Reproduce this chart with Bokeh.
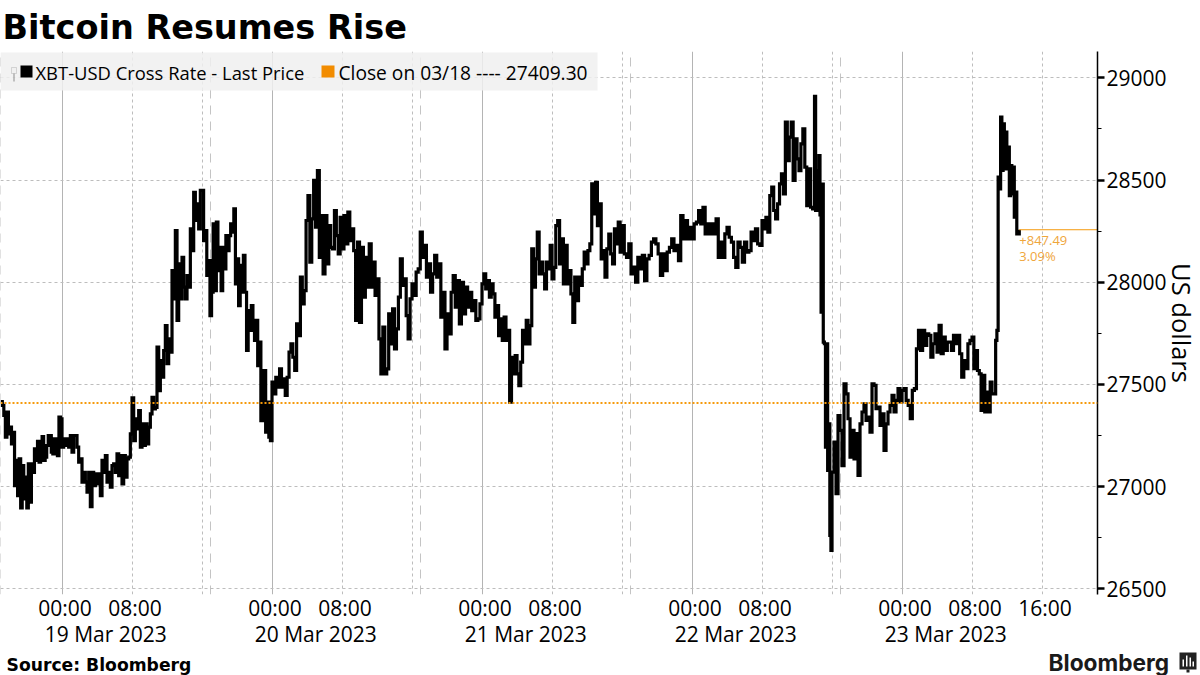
import numpy as np
from bokeh.embed import file_html
from bokeh.layouts import column
from bokeh.resources import INLINE
from bokeh.plotting import figure
from bokeh.models import (BoxAnnotation, FixedTicker, Grid, Label, LinearAxis, Range1d, Span)

TITLE = "Bitcoin Resumes Rise"
SOURCE = "Source: Bloomberg"
BRAND = "Bloomberg"
Y_TITLE = "US dollars"
LEGEND_LINE = "XBT-USD Cross Rate - Last Price"
LEGEND_CLOSE = "Close on 03/18 ---- 27409.30"
CLOSE_VALUE = 27409.30
CHANGE_ABS = "+847.49"
CHANGE_PCT = "3.09%"

# hours since 19 Mar 2023 00:00 bounding each run of readings
seg_edges = [-7, 0, 8, 16, 24, 32, 40, 48, 56, 64, 72, 80, 86, 88, 96, 104, 106.7, 109.4]
seg_00 = [27416,27397,27348,27242,27364,27258,27291,27209,27266,27005,27128,26956,27136,26896,27103,26940,27046,26896,27111,26924,27111,27070,27185,27128,27222,27120,27177,27245,27128,27144,27201,27250,27250,27168,27160,27234,27185,27152,27340,27331]
seg_01 = [27193,27234,27201,27234,27193,27250,27168,27250,27250,27193,27120,27136,27022,27070,27022,26973,27070,26902,27070,27005,27062,27013,27062,26956,27128,27070,27152,27022,27070,26997,27103,27111,27070,27160,27054,27152,27013,27152,27046,27136,27144,27258]
seg_02 = [27434,27225,27331,27282,27372,27193,27307,27201,27307,27209,27291,27356,27437,27380,27388,27682,27470,27617,27535,27666,27788,27601,27723,27658,28057,27919,28253,27813,28090,27919,28122,27976,27919,28033,27976,28261,28155,28440,28302,28383,28261,28449]
seg_03 = [28449,28204,28253,28033,28106,27837,27951,28286,27959,28294,28057,28171,27959,28171,28065,28228,28155,28228,28286,28245,28359,27992,28114,27886,28082,27951,28131,27951,27666,27861,27764,27886,27813,27715,27813,27592,27707,27323,27486,27568,27266,27413,27242,27225]
seg_04 = [27511,27454,27535,27486,27576,27486,27527,27446,27535,27658,27698,27633,27568,27796,27739,28025,27894,27959,28302,28424,28098,28310,28498,28269,28546,28122,28326,28041,28326,28090,28277,28171,28163,28351,28228,28139,28318]
seg_05 = [28163,28326,28188,28343,28204,28261,28155,27813,28196,27804,28171,27927,28122,27976,28188,27976,28098,27935,28016,27723,27552,27780,27552,27576,27845,27698,27870,27674,27772,27927,28114,27984,28016,27837,27723,27919]
seg_06 = [27992,27935,28049,28065,28245,28122,28180,28025,28090,27951,28041,28131,28025,28090,27829,27951,27674,27845,27747,27951,28033,27878,28008,27796,28000,27845,27976,27878,27951,27861,27910,27813,27821,27894]
seg_07 = [27992,28041,27967,28008,27927,27992,27943,27829,27886,27739,27821,27715,27829,27715,27764,27413,27633,27552,27641,27552,27494,27609,27764,27698,27813,27698,27788,28163,27976,28114,28245,28041,28098,28041,27967,28098,28065,28180]
seg_08 = [28016,28073,28277,28302,28090,28212,27992,28180,27992,28057,27943,27804,28025,27910,28025,27984,28065,28147,28090,28155,28188,28481,28334,28489,28277,28383,28114,28155,28025,28163,28236,28139,28090,28261,28188,28294,28147]
seg_09 = [28277,28139,28122,28188,28041,28074,28000,28122,28065,28131,28008,28114,28131,28196,28212,28188,28139,28033,28139,28057,28147,28171,28212,28155,28180,28106,28326,28212,28302,28212,28269]
seg_10 = [28212,28286,28294,28351,28286,28367,28237,28286,28237,28286,28237,28310,28122,28196,28122,28237,28269,28220,28196,28122,28073,28196,28171,28098,28196,28147,28155,28245,28204,28261,28188,28180]
seg_11 = [28302,28261,28318,28245,28424,28465,28351,28310,28383,28481,28530,28432,28783,28595,28710,28783,28498,28701,28604,28546,28677,28750,28563,28375,28555,28367,28359]
seg_12 = [28909,28351,28546,28351,28620,28330,27853,28480,27707,27699,27193,27699,27079,27307,26761,26688]
seg_13 = [27071,27218,26965,27348,27275,27102,27503,27454,27332,27144,27275,27136,27259,27055,27307,27365,27405,27324,27340,27267,27503,27495,27381,27389,27299,27356,27177,27307,27365,27397,27446,27365,27422,27479,27414]
seg_14 = [27471,27479,27422,27397,27332,27471,27479,27674,27764,27666,27764,27691,27748,27740,27634,27699,27748,27658,27789,27650,27732,27666,27707,27707,27666,27740,27699,27740,27650,27536,27617,27577,27699,27715]
seg_15 = [27732,27577,27666,27568,27552,27373,27544,27365,27462,27365,27511,27454,27454]
seg_16 = [27715,27764,28514,28457,28808,28547,28775,28555,28734,28555,28661,28424,28571,28432,28563,28318,28441,28237,28256.79]
segments = [seg_00,seg_01,seg_02,seg_03,seg_04,seg_05,seg_06,seg_07,seg_08,seg_09,seg_10,seg_11,seg_12,seg_13,seg_14,seg_15,seg_16]

y_major = [26500, 27000, 27500, 28000, 28500, 29000]
y_minor = [26750, 27250, 27750, 28250, 28750]
midnights = [0, 24, 48, 72, 96]
eights = [8, 16, 32, 40, 56, 64, 80, 88, 104, 112]
session_marks = [-7, 17, 41, 65, 89]
time_hours = [0, 8, 24, 32, 48, 56, 72, 80, 96, 104, 112]
time_labels = ["00:00", "08:00", "00:00", "08:00", "00:00", "08:00", "00:00", "08:00", "00:00", "08:00", "16:00"]
date_hours = [5, 29, 53, 77, 101]
date_labels = ["19 Mar 2023", "20 Mar 2023", "21 Mar 2023", "22 Mar 2023", "23 Mar 2023"]

TICK_FONT = "Open Sans"
GRID = "#bdbdbd"
ORANGE = "#f59a0c"
X_START, X_END = -7.03 * 60, 118.34 * 60

def m(h):
    return int(round(h * 60))

x_all, y_all = [], []
for i, seg in enumerate(segments):
    t = np.linspace(seg_edges[i], seg_edges[i + 1], len(seg), endpoint=False)
    x_all.extend((t * 60).tolist())
    y_all.extend(seg)
x_all[-1] = seg_edges[-1] * 60

p = figure(width=1200, height=648, frame_width=1097, frame_height=543, output_backend="svg", toolbar_location=None,
           x_range=Range1d(X_START, X_END), y_range=Range1d(26472, 29129),
           x_axis_location=None, y_axis_location=None,
           min_border_left=0, min_border_right=103, min_border_top=51, min_border_bottom=54)
p.frame_align = False
p.outline_line_color = None
p.background_fill_color = "white"
p.xgrid.visible = False
p.ygrid.visible = False

p.title.text = TITLE
p.title.text_font = "DejaVu Sans"
p.title.text_font_style = "bold"
p.title.text_font_size = "33.5px"
p.title.text_color = "#000000"
p.title.offset = 2
p.title.standoff = 10

def fy(v):
    return 594 - v

# grids
p.add_layout(Grid(dimension=0, ticker=FixedTicker(ticks=[m(h) for h in midnights]),
                  grid_line_color="#b4b4b4", grid_line_width=1), "center")
p.add_layout(Grid(dimension=0, ticker=FixedTicker(ticks=[m(h) for h in eights]),
                  grid_line_color=GRID, grid_line_dash=[3, 3], grid_line_width=1), "center")
p.add_layout(Grid(dimension=0, ticker=FixedTicker(ticks=[m(h) for h in session_marks]),
                  grid_line_color="#c4c4c4", grid_line_dash=[9, 7], grid_line_width=1), "center")
p.add_layout(Grid(dimension=1, ticker=FixedTicker(ticks=y_major),
                  grid_line_color=GRID, grid_line_dash=[3, 3], grid_line_width=1), "center")

# axes
yax = LinearAxis(ticker=FixedTicker(ticks=y_major, minor_ticks=y_minor), axis_label=Y_TITLE,
                 axis_line_color="#000000", axis_line_width=1.5,
                 major_tick_line_color="#000000", major_tick_line_width=2.5, major_tick_in=0, major_tick_out=7,
                 minor_tick_line_color="#000000", minor_tick_line_width=1, minor_tick_in=0, minor_tick_out=4,
                 major_label_text_font=TICK_FONT, major_label_text_font_size="21px",
                 major_label_text_color="#000000", major_label_standoff=2,
                 axis_label_text_font=TICK_FONT, axis_label_text_font_size="25.5px",
                 axis_label_text_font_style="normal", axis_label_text_color="#000000", axis_label_standoff=-5)
p.add_layout(yax, "right")

def label_axis(hours, labels, shift, standoff):
    ticks = [m(h) + shift for h in hours]
    return LinearAxis(ticker=FixedTicker(ticks=ticks),
                      major_label_overrides=dict(zip(ticks, labels)),
                      axis_line_color=None, major_tick_line_color=None, minor_tick_line_color=None,
                      major_tick_in=0, major_tick_out=0,
                      major_label_text_font=TICK_FONT, major_label_text_font_size="21px",
                      major_label_text_color="#000000", major_label_standoff=standoff)

p.add_layout(label_axis(time_hours, time_labels, 21, -1), "below")
p.add_layout(label_axis(date_hours, date_labels, 0, -5), "below")

# data
p.add_layout(Span(location=CLOSE_VALUE, dimension="width", line_color=ORANGE,
                  line_width=2, line_dash=[2, 2]))
p.step(x_all, y_all, mode="after", line_color="#000000", line_width=3.2, line_join="miter")
p.line([x_all[-1], X_END], [y_all[-1], y_all[-1]], line_color=ORANGE, line_width=1)

p.add_layout(Label(x=x_all[-1], y=y_all[-1], y_offset=-15, x_offset=0, text=CHANGE_ABS,
                   text_font=TICK_FONT, text_font_size="13px", text_color="#efa63b"))
p.add_layout(Label(x=x_all[-1], y=y_all[-1], y_offset=-35, x_offset=0, text=CHANGE_PCT,
                   text_font=TICK_FONT, text_font_size="13px", text_color="#efa63b"))

# legend strip
def sbox(l, r, t, b, color, alpha=1.0, base=594, line=None):
    return BoxAnnotation(left=l, right=r, top=base - t, bottom=base - b, left_units="screen", right_units="screen",
                         top_units="screen", bottom_units="screen", fill_color=color, fill_alpha=alpha, line_color=line)

p.add_layout(sbox(0, 597, 52, 90, "#f0f0f0", 0.85))
p.add_layout(sbox(11, 16, 67, 73, "#f0f0f0", 1.0, line="#8c8c8c"))
p.add_layout(sbox(13, 14, 73, 81, "#8c8c8c"))
p.add_layout(sbox(20, 32, 65, 77, "#000000"))
p.add_layout(sbox(321, 334, 65, 77, "#f28c00"))
for tx, txt, fs in ((35, LEGEND_LINE, "18.4px"), (338, LEGEND_CLOSE, "19.2px")):
    p.add_layout(Label(x=tx, y=fy(72), x_units="screen", y_units="screen", text=txt, text_baseline="middle",
                       text_font=TICK_FONT, text_font_size=fs, text_color="#000000"))

# footer strip (its own figure, since annotations do not draw outside a frame)
foot = figure(width=1200, height=27, output_backend="svg", toolbar_location=None,
              x_range=Range1d(0, 1200), y_range=Range1d(0, 27),
              x_axis_location=None, y_axis_location=None,
              min_border_left=0, min_border_right=0, min_border_top=0, min_border_bottom=0)
foot.frame_align = False
foot.outline_line_color = None
foot.xgrid.visible = False
foot.ygrid.visible = False
FOOT_BASE = 675
foot.add_layout(Label(x=6, y=FOOT_BASE - 662, x_units="screen", y_units="screen", text=SOURCE, text_baseline="middle",
                      text_font="DejaVu Sans", text_font_style="bold", text_font_size="17.2px", text_color="#000000"))
foot.add_layout(Label(x=1048, y=FOOT_BASE - 660, x_units="screen", y_units="screen", text=BRAND, text_baseline="middle",
                      text_font="Inter", text_font_style="bold", text_font_size="22.7px", text_color="#1a1a1a"))
foot.add_layout(sbox(1179, 1196, 650, 667, "#222222", base=FOOT_BASE))
foot.add_layout(sbox(1186, 1189, 667, 670, "#222222", base=FOOT_BASE))
for bx, bt in ((1182, 657), (1185.5, 653), (1189, 655), (1192, 659)):
    foot.add_layout(sbox(bx, bx + 1.5, bt, 664, "#ffffff", base=FOOT_BASE))

page = column(p, foot, spacing=0)
open("out.html", "w").write(file_html(page, INLINE))
